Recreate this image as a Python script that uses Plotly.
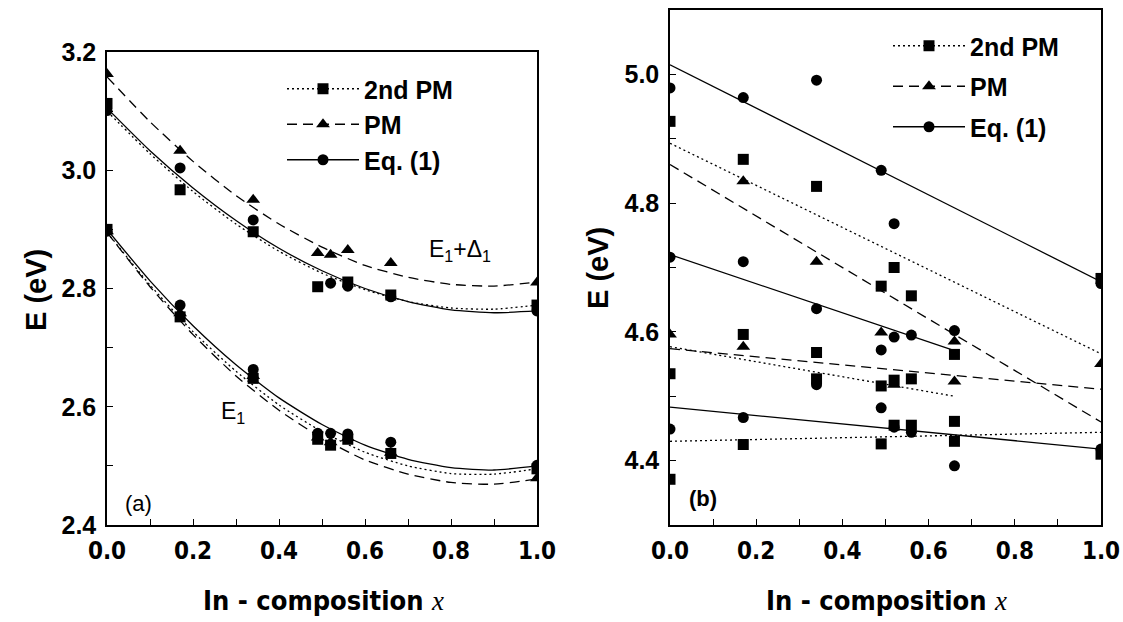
import plotly.graph_objects as go

# ---------------- Panel (a) data ----------------
a_up_sq_x = [0.0, 0.17, 0.34, 0.49, 0.56, 0.66, 1.0]
a_up_sq_y = [3.113, 2.967, 2.896, 2.803, 2.811, 2.789, 2.772]
a_up_tri_x = [0.0, 0.17, 0.34, 0.49, 0.52, 0.56, 0.66, 1.0]
a_up_tri_y = [3.163, 3.033, 2.950, 2.860, 2.857, 2.865, 2.843, 2.810]
a_up_ci_x = [0.0, 0.17, 0.34, 0.52, 0.56, 0.66, 1.0]
a_up_ci_y = [3.101, 3.004, 2.916, 2.809, 2.804, 2.786, 2.762]

a_lo_x = [0.0, 0.17, 0.34, 0.49, 0.52, 0.56, 0.66, 1.0]
a_lo_sq_y = [2.900, 2.752, 2.648, 2.545, 2.535, 2.545, 2.521, 2.495]
a_lo_tri_y = [2.897, 2.758, 2.652, 2.548, 2.540, 2.547, 2.522, 2.479]
a_lo_ci_y = [2.897, 2.772, 2.663, 2.555, 2.555, 2.554, 2.540, 2.501]

# fitted curves
curve_x = [0.0, 0.1, 0.2, 0.3, 0.4, 0.5, 0.6, 0.7, 0.8, 0.9, 1.0]
a_up_pm2 = [3.100, 3.028, 2.964, 2.909, 2.863, 2.826, 2.798, 2.778, 2.767, 2.765, 2.772]
a_up_pm = [3.158, 3.082, 3.015, 2.957, 2.909, 2.870, 2.839, 2.819, 2.807, 2.804, 2.811]
a_up_eq = [3.105, 3.033, 2.970, 2.915, 2.868, 2.830, 2.800, 2.778, 2.764, 2.759, 2.762]
a_lo_pm2 = [2.895, 2.806, 2.727, 2.660, 2.603, 2.558, 2.523, 2.500, 2.487, 2.486, 2.495]
a_lo_pm = [2.895, 2.803, 2.722, 2.652, 2.594, 2.547, 2.510, 2.486, 2.472, 2.469, 2.478]
a_lo_eq = [2.900, 2.813, 2.737, 2.671, 2.615, 2.570, 2.535, 2.511, 2.497, 2.493, 2.500]

# ---------------- Panel (b) data ----------------
b_sq_x = [0.0, 0.0, 0.0, 0.17, 0.17, 0.17, 0.34, 0.34, 0.34, 0.49, 0.49, 0.49,
          0.52, 0.52, 0.52, 0.56, 0.56, 0.56, 0.66, 0.66, 0.66, 1.0, 1.0]
b_sq_y = [4.927, 4.535, 4.371, 4.868, 4.596, 4.425, 4.826, 4.568, 4.527, 4.671, 4.516, 4.426,
          4.700, 4.525, 4.455, 4.656, 4.527, 4.455, 4.565, 4.461, 4.430, 4.683, 4.410]
b_tri_x = [0.0, 0.17, 0.17, 0.34, 0.49, 0.52, 0.66, 0.66, 1.0]
b_tri_y = [4.596, 4.834, 4.577, 4.709, 4.599, 4.518, 4.585, 4.523, 4.550]
b_ci_x = [0.0, 0.0, 0.0, 0.17, 0.17, 0.17, 0.34, 0.34, 0.34, 0.49, 0.49, 0.49,
          0.52, 0.52, 0.52, 0.56, 0.56, 0.66, 0.66, 1.0, 1.0]
b_ci_y = [4.979, 4.716, 4.449, 4.964, 4.709, 4.467, 4.991, 4.636, 4.518, 4.851, 4.572, 4.482,
          4.768, 4.592, 4.452, 4.595, 4.444, 4.602, 4.392, 4.675, 4.418]

# straight fit lines (end points)
b_eq_lines = [([0.0, 1.0], [5.015, 4.678]), ([0.0, 0.66], [4.720, 4.571]), ([0.0, 1.0], [4.483, 4.418])]
b_pm2_lines = [([0.0, 1.0], [4.893, 4.566]), ([0.0, 0.66], [4.577, 4.500]), ([0.0, 1.0], [4.430, 4.444])]
b_pm_lines = [([0.0, 1.0], [4.860, 4.460]), ([0.0, 1.0], [4.574, 4.511])]

legend_names = ["2nd PM", "PM", "Eq. (1)"]
x_ticks = [0.0, 0.2, 0.4, 0.6, 0.8, 1.0]

W, H = 1123, 622
BOLD = "Liberation Sans, Arial, sans-serif"
NARROW = "DejaVu Sans Condensed, Liberation Sans Narrow, Arial Narrow, Liberation Sans, sans-serif"

STY = {
    "2nd PM": dict(dash="2px,3px", symbol="square", size=11),
    "PM": dict(dash="10px,6px", symbol="triangle-up", size=12),
    "Eq. (1)": dict(dash="solid", symbol="circle", size=11),
}

fig = go.Figure()


def add_line(x, y, name, xa, ya):
    fig.add_trace(go.Scatter(x=x, y=y, mode="lines", xaxis=xa, yaxis=ya,
                             line=dict(color="black", width=1.3, dash=STY[name]["dash"],
                                       shape="spline", smoothing=0.6),
                             showlegend=False, hoverinfo="skip"))


def add_pts(x, y, name, xa, ya):
    fig.add_trace(go.Scatter(x=x, y=y, mode="markers", xaxis=xa, yaxis=ya,
                             marker=dict(color="black", symbol=STY[name]["symbol"], size=STY[name]["size"]),
                             showlegend=False))


# panel (a)
add_line(curve_x, a_up_pm2, "2nd PM", "x", "y")
add_line(curve_x, a_up_pm, "PM", "x", "y")
add_line(curve_x, a_up_eq, "Eq. (1)", "x", "y")
add_line(curve_x, a_lo_pm2, "2nd PM", "x", "y")
add_line(curve_x, a_lo_pm, "PM", "x", "y")
add_line(curve_x, a_lo_eq, "Eq. (1)", "x", "y")
add_pts(a_up_sq_x, a_up_sq_y, "2nd PM", "x", "y")
add_pts(a_up_tri_x, a_up_tri_y, "PM", "x", "y")
add_pts(a_up_ci_x, a_up_ci_y, "Eq. (1)", "x", "y")
add_pts(a_lo_x, a_lo_sq_y, "2nd PM", "x", "y")
add_pts(a_lo_x, a_lo_tri_y, "PM", "x", "y")
add_pts(a_lo_x, a_lo_ci_y, "Eq. (1)", "x", "y")

# panel (b)
for lx, ly in b_pm2_lines:
    add_line(lx, ly, "2nd PM", "x2", "y2")
for lx, ly in b_pm_lines:
    add_line(lx, ly, "PM", "x2", "y2")
for lx, ly in b_eq_lines:
    add_line(lx, ly, "Eq. (1)", "x2", "y2")
add_pts(b_sq_x, b_sq_y, "2nd PM", "x2", "y2")
add_pts(b_tri_x, b_tri_y, "PM", "x2", "y2")
add_pts(b_ci_x, b_ci_y, "Eq. (1)", "x2", "y2")

# legend entries
for lg, xa, ya in [("legend", "x", "y"), ("legend2", "x2", "y2")]:
    for i, name in enumerate(legend_names):
        s = STY[name]
        fig.add_trace(go.Scatter(x=[None], y=[None], mode="lines+markers", name=name,
                                 xaxis=xa, yaxis=ya, legend=lg, legendgroup=lg + str(i),
                                 line=dict(color="black", width=1.3, dash=s["dash"]),
                                 marker=dict(color="black", symbol=s["symbol"], size=s["size"])))

ax_common = dict(showline=True, linecolor="black", linewidth=1.5, mirror=True,
                 ticks="inside", ticklen=6, tickwidth=1.3, tickcolor="black",
                 showgrid=False, zeroline=False, automargin=False)

xdom1 = [107 / W, 537 / W]
xdom2 = [670 / W, 1101 / W]
ydom1 = [1 - 525 / H, 1 - 52 / H]
ydom2 = [1 - 525 / H, 1 - 10 / H]

xtick = dict(tickvals=x_ticks, ticktext=["%.1f" % v for v in x_ticks],
             tickfont=dict(family=NARROW, size=24, color="black", weight="bold"),
             minor=dict(dtick=0.1, ticks="inside", ticklen=6, tickwidth=1.3, tickcolor="black"),
             range=[0, 1], ticklabelstandoff=3)

ytickfont = dict(family=BOLD, size=25, color="black", weight="bold")
yminor = dict(dtick=0.1, ticks="inside", ticklen=6, tickwidth=1.3, tickcolor="black")

fig.update_layout(
    template="none",
    width=W, height=H, margin=dict(l=0, r=0, t=0, b=0, autoexpand=False),
    paper_bgcolor="white", plot_bgcolor="white",
    xaxis=dict(domain=xdom1, anchor="y", **xtick, **ax_common),
    xaxis2=dict(domain=xdom2, anchor="y2", **xtick, **ax_common),
    yaxis=dict(domain=ydom1, anchor="x", range=[2.4, 3.2], dtick=0.2, tick0=0, tickformat=".1f",
               tickfont=ytickfont, minor=yminor, ticklabelstandoff=4, **ax_common),
    yaxis2=dict(domain=ydom2, anchor="x2", range=[4.3, 5.1], dtick=0.2, tick0=0, tickformat=".1f",
                tickfont=ytickfont, minor=yminor, ticklabelstandoff=4, **ax_common),
    legend=dict(x=282 / W, y=1 - 66 / H, xanchor="left", yanchor="top", bgcolor="rgba(0,0,0,0)",
                font=dict(family=BOLD, size=25, color="black", weight="bold"),
                itemwidth=72, traceorder="grouped", tracegroupgap=0),
    legend2=dict(x=888 / W, y=1 - 23 / H, xanchor="left", yanchor="top", bgcolor="rgba(0,0,0,0)",
                 font=dict(family=BOLD, size=25, color="black", weight="bold"),
                 itemwidth=72, traceorder="grouped", tracegroupgap=5),
    showlegend=True,
)

ann = [
    dict(text="E<sub>1</sub>+Δ<sub>1</sub>", x=460 / W, y=1 - 250 / H, font=dict(family=BOLD, size=23)),
    dict(text="E<sub>1</sub>", x=233 / W, y=1 - 412 / H, font=dict(family=BOLD, size=23)),
    dict(text="(a)", x=138 / W, y=1 - 503 / H, font=dict(family=BOLD, size=22)),
    dict(text="<b>(b)</b>", x=703 / W, y=1 - 498 / H, font=dict(family=BOLD, size=22)),
    dict(text="<b>In - composition </b><span style='font-family:Liberation Serif'><i>x</i></span>",
         x=323 / W, y=1 - 600 / H, font=dict(family=NARROW, size=27)),
    dict(text="<b>In - composition </b><span style='font-family:Liberation Serif'><i>x</i></span>",
         x=886 / W, y=1 - 600 / H, font=dict(family=NARROW, size=27)),
    dict(text="<b>E (eV)</b>", x=36 / W, y=1 - 290 / H, textangle=-90,
         font=dict(family=BOLD, size=29)),
    dict(text="<b>E (eV)</b>", x=598 / W, y=1 - 268 / H, textangle=-90,
         font=dict(family=BOLD, size=29)),
]
for a in ann:
    a.setdefault("font", {})
    a["font"]["color"] = "black"
    fig.add_annotation(xref="paper", yref="paper", showarrow=False,
                       xanchor="center", yanchor="middle", **a)

fig.write_html("out.html")
